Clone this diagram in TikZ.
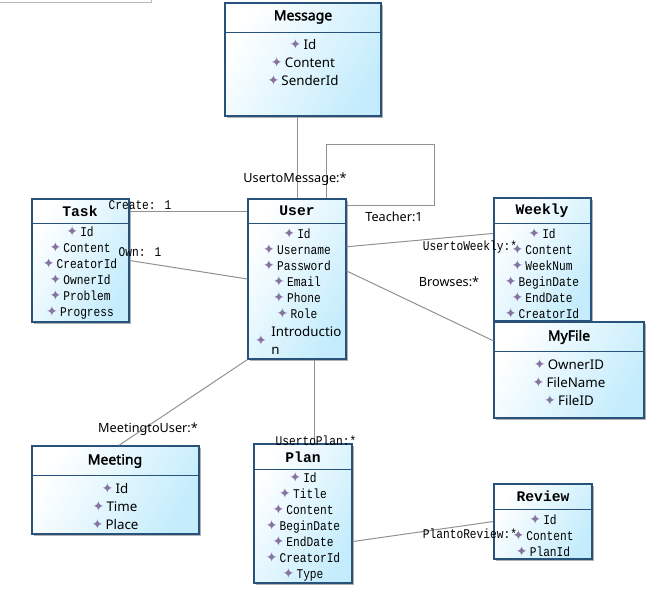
\documentclass[tikz,border=0pt]{standalone}
\usepackage{fontspec}
\usetikzlibrary{positioning, calc, fit, shadows}
\newfontfamily\uisans{Noto Sans}
\newfontfamily\uisansbold[FakeBold=2.2]{Noto Sans}
\newfontfamily\simfont[FakeStretch=0.84]{Liberation Mono}
\newfontfamily\simtitle{Liberation Mono}
\newfontfamily\symfont{DejaVu Sans}
\definecolor{boxline}{RGB}{40,82,122}
\definecolor{boxfill}{RGB}{196,236,252}
\definecolor{assocline}{RGB}{145,145,145}
\definecolor{markcol}{RGB}{135,115,160}
\newcommand{\attrmark}{{\symfont\fontsize{10.5}{8}\selectfont\color{markcol}✦}\,}

\begin{document}
\begin{tikzpicture}[
    x=0.75pt, y=-0.75pt,
    every node/.style={inner sep=0pt, text=black},
    classbox/.style={draw=boxline, line width=0.9pt, left color=white, right color=boxfill, shading angle=60,
        drop shadow={shadow xshift=1.8pt, shadow yshift=-1.8pt, opacity=0.3, fill=black}},
    sanstitle/.style={font=\uisansbold\fontsize{10.5}{12}\selectfont},
    monotitle/.style={font=\simtitle\bfseries\fontsize{11}{12}\selectfont},
    sansattr/.style={align=center, font=\uisans\fontsize{10}{13.5}\selectfont},
    monoattr/.style={align=center, font=\simfont\fontsize{10}{12}\selectfont},
    sanslabel/.style={font=\uisans\fontsize{9.5}{11}\selectfont},
    monolabel/.style={font=\simfont\fontsize{10}{11}\selectfont},
    assoc/.style={draw=assocline, line width=0.75pt},
    divider/.style={draw=boxline, line width=0.75pt}
]
\useasboundingbox (0,0) rectangle (660,611);

% --- window edge at the top
\draw[draw=gray!55, line width=0.75pt] (0,2) -- (151,2) -- (151,0);

% --- Message
\node[classbox, fit={(225,3) (381,116)}] (message) {};
\node[sanstitle] (message-title) at (303,17) {Message};
\draw[divider] (225,32) -- (381,32);
\node[sansattr] (message-attrs) at (303,62) {\attrmark Id\\\attrmark Content\\\attrmark SenderId};

% --- Task
\node[classbox, fit={(32,199) (129,322)}] (task) {};
\node[monotitle] (task-title) at (80,211) {Task};
\draw[divider] (32,223) -- (129,223);
\node[monoattr] (task-attrs) at (80,273) {\attrmark Id\\\attrmark Content\\\attrmark CreatorId\\\attrmark OwnerId\\\attrmark Problem\\\attrmark Progress};

% --- User
\node[classbox, fit={(248,199) (346,359)}] (user) {};
\node[monotitle] (user-title) at (297,211) {User};
\draw[divider] (248,223) -- (346,223);
\node[monoattr] (user-attrs) at (297,273) {\attrmark Id\\\attrmark Username\\\attrmark Password\\\attrmark Email\\\attrmark Phone\\\attrmark Role};
\node (user-intro-mark) at (262,340) {\attrmark};
\node[sansattr, align=left, anchor=west] (user-intro) at (271,340) {Introductio\\n};

% --- Weekly
\node[classbox, fit={(494,198) (591,321)}] (weekly) {};
\node[monotitle] (weekly-title) at (542,211) {Weekly};
\draw[divider] (494,223) -- (591,223);
\node[monoattr] (weekly-attrs) at (542,273) {\attrmark Id\\\attrmark Content\\\attrmark WeekNum\\\attrmark BeginDate\\\attrmark EndDate\\\attrmark CreatorId};

% --- MyFile
\node[classbox, fit={(494,322) (644,418)}] (myfile) {};
\node[sanstitle] (myfile-title) at (569,337) {MyFile};
\draw[divider] (494,351) -- (644,351);
\node[sansattr] (myfile-attrs) at (569,382) {\attrmark OwnerID\\\attrmark FileName\\\attrmark FileID};

% --- Meeting
\node[classbox, fit={(32,446) (199,534)}] (meeting) {};
\node[sanstitle] (meeting-title) at (115,461) {Meeting};
\draw[divider] (32,475) -- (199,475);
\node[sansattr] (meeting-attrs) at (115,506) {\attrmark Id\\\attrmark Time\\\attrmark Place};

% --- Plan
\node[classbox, fit={(254,444) (352,583)}] (plan) {};
\node[monotitle] (plan-title) at (303,457) {Plan};
\draw[divider] (254,469) -- (352,469);
\node[monoattr] (plan-attrs) at (303,527) {\attrmark Id\\\attrmark Title\\\attrmark Content\\\attrmark BeginDate\\\attrmark EndDate\\\attrmark CreatorId\\\attrmark Type};

% --- Review
\node[classbox, fit={(494,484) (592,559)}] (review) {};
\node[monotitle] (review-title) at (543,496) {Review};
\draw[divider] (494,509) -- (592,509);
\node[monoattr] (review-attrs) at (543,535) {\attrmark Id\\\attrmark Content\\\attrmark PlanId};

% --- Associations
\coordinate (teacher-corner) at (434,144);
\draw[assoc] (message.south -| user.north) -- (user.north);
\draw[assoc] ($(user.north west)!0.8!(user.north east)$) |- (teacher-corner)
    |- ($(user.north east)!0.045!(user.south east)$);
\draw[assoc] (task.east |- user-title) -- (user.west |- user-title);
\draw[assoc] (task.east) -- (user.west);
\draw[assoc] ($(user.north east)!0.3!(user.south east)$) -- ($(weekly.north west)!0.29!(weekly.south west)$);
\draw[assoc] ($(user.north east)!0.45!(user.south east)$) -- ($(myfile.north west)!0.2!(myfile.south west)$);
\draw[assoc] (user.south west) -- ($(meeting.north west)!0.52!(meeting.north east)$);
\coordinate (plan-link) at ($(user.south west)!0.68!(user.south east)$);
\draw[assoc] (plan-link) -- (plan-link |- plan.north);
\draw[assoc] ($(plan.north east)!0.7!(plan.south east)$) -- (review.west);

% --- Role names
\node[sanslabel] (msg-role) at (295,179) {UsertoMessage:*};
\node[sanslabel] (teacher-role) at (394,217) {Teacher:1};
\node[monolabel] (create-role) at (140,205) {Create: 1};
\node[monolabel] (own-role) at (140,252) {Own: 1};
\node[monolabel] (weekly-role) at (470,247) {UsertoWeekly:*};
\node[sanslabel] (browses-role) at (449,282) {Browses:*};
\node[sanslabel] (meeting-role) at (148,429) {MeetingtoUser:*};
\node[monolabel] (plan-role) at (316,441) {UsertoPlan:*};
\node[monolabel] (review-role) at (470,534) {PlantoReview:*};

\end{tikzpicture}
\end{document}
